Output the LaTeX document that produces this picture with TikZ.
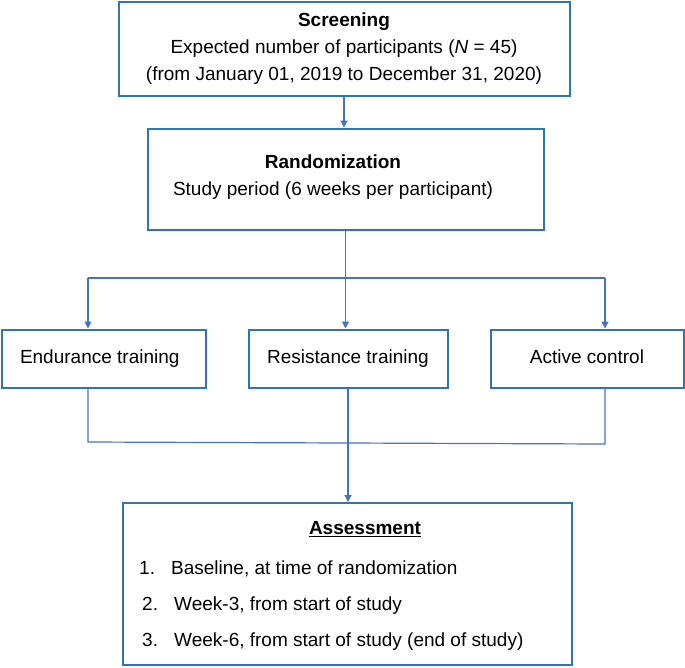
\documentclass[tikz,border=0pt]{standalone}
\usepackage{fontspec}
\setmainfont{Liberation Sans}
\usetikzlibrary{arrows.meta}
\definecolor{boxblue}{RGB}{46,117,182}
\definecolor{lineblue}{RGB}{68,114,196}
\begin{document}
\begin{tikzpicture}[x=1pt,y=-1pt,
  box/.style={draw=boxblue, line width=2pt, inner sep=0pt, align=center, font=\fontsize{19}{27}\selectfont},
  armbox/.style={box, minimum height=58pt, text height=13.5pt, text depth=4pt},
  txt/.style={inner sep=0pt, align=center, font=\fontsize{19}{27}\selectfont},
  conn/.style={draw=lineblue, line width=1.2pt},
  arr/.style={conn, -{Triangle[width=7pt,length=7pt]}}
]
\useasboundingbox (0,0) rectangle (685,667);

% boxes
\node[box, minimum width=451pt, minimum height=94pt] (screen) at (344,49)
  {\textbf{Screening}\\Expected number of participants (\textit{N} = 45)\\(from January 01, 2019 to December 31, 2020)};
\node[box, minimum width=396pt, minimum height=101pt] (rand) at (345.5,179) {};
\node[txt] (randtxt) at (333,177) {\textbf{Randomization}\\Study period (6 weeks per participant)};

\node[armbox, minimum width=204.5pt] (endu) at (103.75,358.5) {\hspace*{-8pt}Endurance training};
\node[armbox, minimum width=199pt] (resi) at (348,358.5) {Resistance training};
\node[armbox, minimum width=193pt] (act) at (587,358.5) {Active control};

\node[box, minimum width=449pt, minimum height=161.5pt] (assess) at (347.5,583.75) {};
\node[txt] (asshead) at (365,529) {\underline{\textbf{Assessment}}};
\node[txt, anchor=west] (it1) at (139,569) {\makebox[32pt][l]{1.}Baseline, at time of randomization};
\node[txt, anchor=west] (it2) at (142,606) {\makebox[32pt][l]{2.}Week-3, from start of study};
\node[txt, anchor=west] (it3) at (142,642) {\makebox[32pt][l]{3.}Week-6, from start of study (end of study)};

% junctions
\coordinate (j1) at (88,278);
\coordinate (j2) at (605,278);
\coordinate (j3) at (88,442);
\coordinate (j4) at (605,444);

% connectors
\draw[arr] (screen.south) -- (screen.south |- rand.north);
\draw[arr] (rand.south) -- (rand.south |- resi.north);
\draw[conn] (j1) -- (j2);
\draw[arr] (j1) -- (j1 |- endu.north);
\draw[arr] (j2) -- (j2 |- act.north);
\draw[conn] (j1 |- endu.south) -- (j3) -- (j4) -- (j2 |- act.south);
\draw[arr] (resi.south) -- (resi.south |- assess.north);
\end{tikzpicture}
\end{document}
